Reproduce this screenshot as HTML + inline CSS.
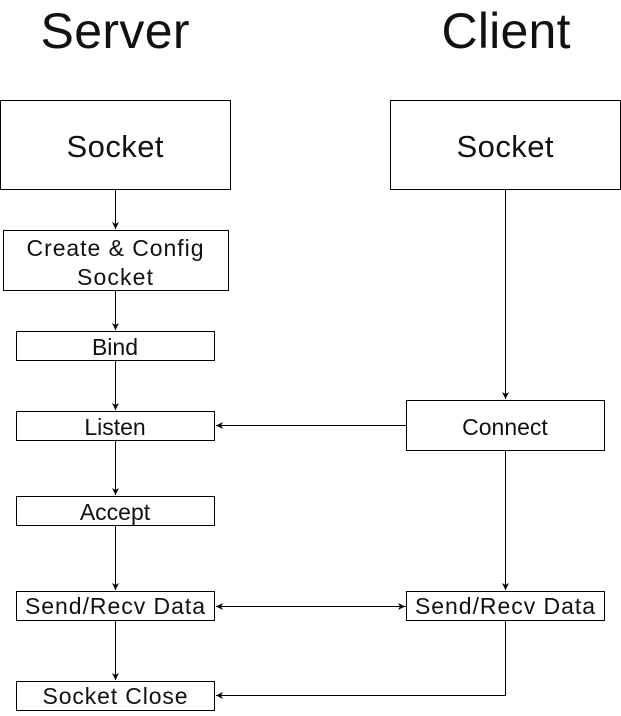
<!DOCTYPE html>
<html><head><style>
body{margin:0;background:#fff}
svg text{font-family:"Liberation Sans",Arial,sans-serif;fill:#111}
</style></head><body>
<svg width="621" height="711" viewBox="0 0 621 711" xmlns="http://www.w3.org/2000/svg">
<defs><marker id="a" markerWidth="8" markerHeight="8" refX="7" refY="4" orient="auto" markerUnits="userSpaceOnUse"><path d="M0,0.5 L7,4 L0,7.5 L2,4 Z" fill="#000"/></marker></defs>
<g font-size="50" text-anchor="middle"><text x="115" y="48" textLength="149">Server</text><text x="506" y="48" textLength="129">Client</text></g>
<g fill="#fff" stroke="#000" stroke-width="1">
<rect x="0.5" y="100.5" width="230" height="89"/>
<rect x="390.5" y="100.5" width="230" height="89"/>
<rect x="3.5" y="230.5" width="225" height="60"/>
<rect x="16.5" y="331.5" width="198" height="29"/>
<rect x="16.5" y="411.5" width="198" height="29"/>
<rect x="406.5" y="400.5" width="198" height="50"/>
<rect x="16.5" y="496.5" width="198" height="29"/>
<rect x="16.5" y="591.5" width="198" height="29"/>
<rect x="406.5" y="591.5" width="198" height="29"/>
<rect x="16.5" y="681.5" width="198" height="29"/>
</g>
<g stroke="#000" stroke-width="1" fill="none" marker-end="url(#a)">
<path d="M115.5,190 V229"/>
<path d="M115.5,291 V330"/>
<path d="M115.5,361 V410"/>
<path d="M115.5,441 V495"/>
<path d="M115.5,526 V590"/>
<path d="M115.5,621 V680"/>
<path d="M505.5,190 V399"/>
<path d="M505.5,451 V590"/>
<path d="M406,425.5 H216"/>
<path d="M406,606.5 H216"/>
<path d="M216,606.5 H405"/>
<path d="M505.5,621 V695.5 H216"/>
</g>
<g font-size="31" text-anchor="middle"><text x="115" y="157" textLength="97">Socket</text><text x="505" y="157" textLength="97">Socket</text></g>
<g font-size="23" text-anchor="middle">
<text x="115" y="256" textLength="177">Create &amp; Config</text>
<text x="115" y="285" textLength="76">Socket</text>
<text x="115" y="355">Bind</text>
<text x="115" y="435">Listen</text>
<text x="505" y="435">Connect</text>
<text x="115" y="520">Accept</text>
<text x="115" y="614" textLength="180">Send/Recv Data</text>
<text x="505" y="614" textLength="180">Send/Recv Data</text>
<text x="115" y="704" textLength="145">Socket Close</text>
</g>
</svg>
</body></html>
